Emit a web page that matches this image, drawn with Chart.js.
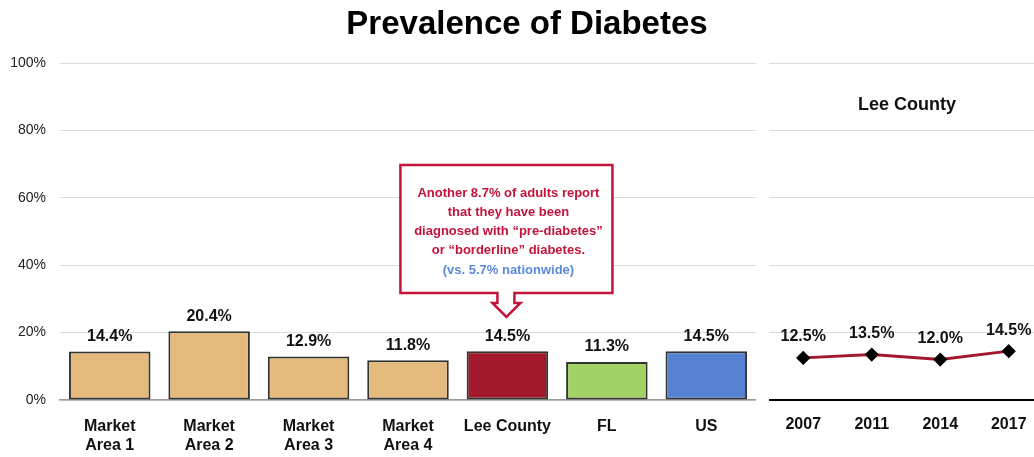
<!DOCTYPE html>
<html>
<head>
<meta charset="utf-8">
<script src="https://cdn.jsdelivr.net/npm/chart.js@4.4.1/dist/chart.umd.min.js"></script>
<style>
    body { margin: 0; width: 1034px; height: 457px; overflow: hidden; background: #fff; position: relative; font-family: "Liberation Sans", Arial, sans-serif; }
    #titulo { position: absolute; left: 0; top: 4px; width: 1054px; text-align: center; font-size: 33px; font-weight: bold; color: #000; }
    #subtitulo { position: absolute; left: 807px; top: 94px; width: 200px; text-align: center; font-size: 18px; font-weight: bold; color: #111; }
    #caixa-barras { position: absolute; left: 0; top: 0; width: 756px; height: 457px; }
    #caixa-linha { position: absolute; left: 769px; top: 0; width: 274px; height: 457px; }
</style>
</head>
<body>
<div id="caixa-barras"><canvas id="grafico-barras"></canvas></div>
<div id="caixa-linha"><canvas id="grafico-linha"></canvas></div>
<div id="titulo">Prevalence of Diabetes</div>
<div id="subtitulo">Lee County</div>
<script>
// dados
const categorias = [["Market", "Area 1"], ["Market", "Area 2"], ["Market", "Area 3"], ["Market", "Area 4"], "Lee County", "FL", "US"];
const valoresBarras = [14.4, 20.4, 12.9, 11.8, 14.5, 11.3, 14.5];
const coresBarras = ["#E4BB7D", "#E4BB7D", "#E4BB7D", "#E4BB7D", "#A3182D", "#A2D266", "#5782D3"];
const anos = ["2007", "2011", "2014", "2017"];
const valoresLee = [12.5, 13.5, 12.0, 14.5];
const ticksY = [0, 20, 40, 60, 80, 100];

const textoCaixa = ["Another 8.7% of adults report", "that they have been", "diagnosed with \u201cpre-diabetes\u201d", "or \u201cborderline\u201d diabetes."];
const textoAzul = "(vs. 5.7% nationwide)";

Chart.defaults.font.family = '"Liberation Sans", Arial, sans-serif';
Chart.defaults.color = "#111";

const FONTE_ROTULO = 'bold 16px "Liberation Sans", Arial, sans-serif';

// rótulos de valor acima das barras / pontos
const rotulosValor = {
    id: "rotulosValor",
    afterDatasetsDraw(chart, args, opts) {
        const ctx = chart.ctx;
        const meta = chart.getDatasetMeta(0);
        ctx.save();
        ctx.font = FONTE_ROTULO;
        ctx.fillStyle = "#111";
        ctx.textAlign = "center";
        ctx.textBaseline = "middle";
        meta.data.forEach((el, i) => {
            const v = chart.data.datasets[0].data[i];
            ctx.fillText(v.toFixed(1) + "%", el.x, el.y - opts.distancia);
        });
        ctx.restore();
    }
};

// caixa de observação com seta apontando para Lee County
const caixaNota = {
    id: "caixaNota",
    afterDraw(chart) {
        const ctx = chart.ctx;
        const cx = chart.scales.x.getPixelForValue(4) - 1;
        const esq = cx - 106, dir = cx + 106, topo = 165, base = 293;
        ctx.save();
        ctx.beginPath();
        ctx.moveTo(esq, topo);
        ctx.lineTo(dir, topo);
        ctx.lineTo(dir, base);
        ctx.lineTo(cx + 8, base);
        ctx.lineTo(cx + 8, base + 10);
        ctx.lineTo(cx + 14, base + 10);
        ctx.lineTo(cx, base + 24);
        ctx.lineTo(cx - 14, base + 10);
        ctx.lineTo(cx - 9, base + 10);
        ctx.lineTo(cx - 9, base);
        ctx.lineTo(esq, base);
        ctx.closePath();
        ctx.fillStyle = "#fff";
        ctx.fill();
        ctx.lineWidth = 2.5;
        ctx.strokeStyle = "#C3143B";
        ctx.stroke();

        ctx.font = 'bold 13px "Liberation Sans", Arial, sans-serif';
        ctx.textAlign = "center";
        ctx.textBaseline = "middle";
        ctx.fillStyle = "#C3143B";
        textoCaixa.forEach((linha, i) => ctx.fillText(linha, cx + 2, 193 + i * 19));
        ctx.fillStyle = "#5A8AD8";
        ctx.fillText(textoAzul, cx + 2, 270);
        ctx.restore();
    }
};

new Chart(document.getElementById("grafico-barras"), {
    type: "bar",
    data: {
        labels: categorias,
        datasets: [{
            data: valoresBarras,
            backgroundColor: coresBarras,
            borderColor: "#333",
            borderWidth: 2,
            borderSkipped: false,
            barPercentage: 0.82,
            categoryPercentage: 1
        }]
    },
    options: {
        responsive: true,
        maintainAspectRatio: false,
        animation: false,
        layout: { autoPadding: false, padding: { top: 63, right: 0, left: 0, bottom: 0 } },
        plugins: {
            legend: { display: false },
            tooltip: { enabled: false },
            rotulosValor: { distancia: 15 }
        },
        scales: {
            x: {
                grid: { display: false },
                border: { color: "#9a9a9a", width: 1.5 },
                ticks: { font: { size: 16, weight: "bold" }, color: "#111", padding: 9, maxRotation: 0 },
                afterFit: s => { s.height = 57; }
            },
            y: {
                min: 0, max: 100,
                afterBuildTicks: s => { s.ticks = ticksY.map(v => ({ value: v })); },
                grid: { color: "#dcdcdc", lineWidth: 1, tickLength: 0 },
                border: { display: false },
                ticks: { font: { size: 14 }, color: "#222", padding: 14, callback: v => v + "%" },
                afterFit: s => { s.width = 60; }
            }
        }
    },
    plugins: [rotulosValor, caixaNota]
});

new Chart(document.getElementById("grafico-linha"), {
    type: "line",
    data: {
        labels: anos,
        datasets: [{
            data: valoresLee,
            borderColor: "#A3182D",
            borderWidth: 3,
            pointStyle: "rectRot",
            pointRadius: 5,
            pointBackgroundColor: "#000",
            pointBorderColor: "#000",
            tension: 0
        }]
    },
    options: {
        responsive: true,
        maintainAspectRatio: false,
        animation: false,
        layout: { autoPadding: false, padding: { top: 63, right: 0, left: 0, bottom: 0 } },
        plugins: {
            legend: { display: false },
            tooltip: { enabled: false },
            rotulosValor: { distancia: 21 }
        },
        scales: {
            x: {
                offset: true,
                grid: { display: false },
                border: { color: "#000", width: 2 },
                ticks: { font: { size: 16, weight: "bold" }, color: "#111", padding: 7 },
                afterFit: s => { s.height = 57; }
            },
            y: {
                min: 0, max: 100,
                afterBuildTicks: s => { s.ticks = ticksY.map(v => ({ value: v })); },
                grid: { color: "#dcdcdc", lineWidth: 1, tickLength: 0 },
                border: { display: false },
                ticks: { display: false },
                afterFit: s => { s.width = 0; }
            }
        }
    },
    plugins: [rotulosValor]
});
</script>
</body>
</html>
